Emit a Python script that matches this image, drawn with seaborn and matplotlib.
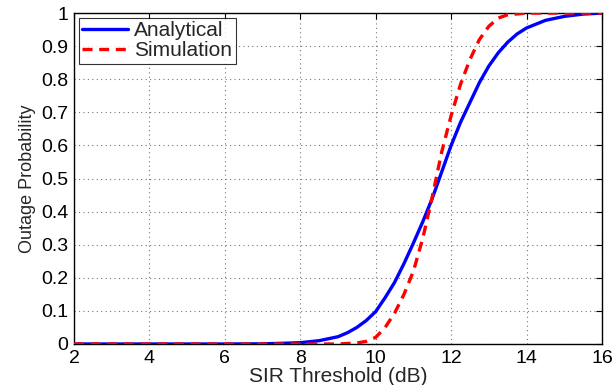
import numpy as np
import pandas as pd
import matplotlib
matplotlib.use('Agg')
import matplotlib.pyplot as plt
import seaborn as sns

sns.set_style('white')
plt.rcParams['font.family'] = ['Liberation Sans', 'DejaVu Sans']

# SIR threshold (dB) and outage probability
sir_analytical = [2, 3, 4, 5, 6, 7, 7.5, 8, 8.5, 9, 9.25, 9.5, 9.75, 10, 10.25,
                  10.5, 10.75, 11, 11.25, 11.5, 11.75, 12, 12.25, 12.5, 12.75,
                  13, 13.25, 13.5, 13.75, 14, 14.5, 15, 15.5, 16]
p_analytical = [0, 0, 0, 0, 0, 0.0005, 0.002, 0.004, 0.01, 0.022, 0.034, 0.05,
                0.071, 0.098, 0.14, 0.186, 0.243, 0.305, 0.37, 0.44, 0.52, 0.60,
                0.67, 0.73, 0.79, 0.84, 0.88, 0.912, 0.937, 0.955, 0.978, 0.99,
                0.997, 1.0]

sir_simulation = [2, 3, 4, 5, 6, 7, 8, 9, 9.5, 9.75, 10, 10.25, 10.5, 10.75,
                  11, 11.25, 11.5, 11.75, 12, 12.25, 12.5, 12.75, 13, 13.25,
                  13.5, 14, 15, 16]
p_simulation = [0, 0, 0, 0, 0, 0, 0, 0, 0.003, 0.008, 0.02, 0.05, 0.093, 0.15,
                0.22, 0.32, 0.445, 0.58, 0.69, 0.785, 0.86, 0.92, 0.96, 0.985,
                0.995, 1.0, 1.0, 1.0]

df = pd.concat([
    pd.DataFrame({'sir': sir_analytical, 'p': p_analytical, 'curve': 'Analytical'}),
    pd.DataFrame({'sir': sir_simulation, 'p': p_simulation, 'curve': 'Simulation'}),
])

fig = plt.figure(figsize=(6.13, 3.85), dpi=100)
ax = fig.add_axes([0.1207, 0.1065, 0.8613, 0.8595])

g = sns.lineplot(data=df, x='sir', y='p', hue='curve', style='curve',
                 palette={'Analytical': '#0000ff', 'Simulation': '#ff0000'},
                 dashes={'Analytical': '', 'Simulation': (3, 2)},
                 linewidth=2.4, ax=ax, legend=True, zorder=3)

ax.set_xlim(2, 16)
ax.set_ylim(0, 1)
ax.set_xticks(np.arange(2, 17, 2))
ax.set_yticks(np.round(np.arange(0, 1.01, 0.1), 1))
ax.set_yticklabels(['0', '0.1', '0.2', '0.3', '0.4', '0.5', '0.6', '0.7', '0.8', '0.9', '1'])
ax.tick_params(direction='in', top=True, right=True, length=4, width=0.8,
               labelsize=14, colors='black', pad=4)
ax.grid(True, linestyle=(0, (1, 3)), color='#777777', linewidth=0.8)
for s in ax.spines.values():
    s.set_color('black')
    s.set_linewidth(1.0)
ax.set_xlabel('SIR Threshold (dB)', fontsize=15, labelpad=0)
ax.set_ylabel('Outage Probability', fontsize=13, labelpad=4)

leg = ax.legend(loc='upper left', fontsize=15, frameon=True, fancybox=False,
                edgecolor='black', handlelength=2.2, borderpad=0.15,
                labelspacing=0.05, handletextpad=0.3, borderaxespad=0.25)
leg.get_frame().set_linewidth(0.8)
leg.set_zorder(5)

fig.savefig('out.png', dpi=100)
